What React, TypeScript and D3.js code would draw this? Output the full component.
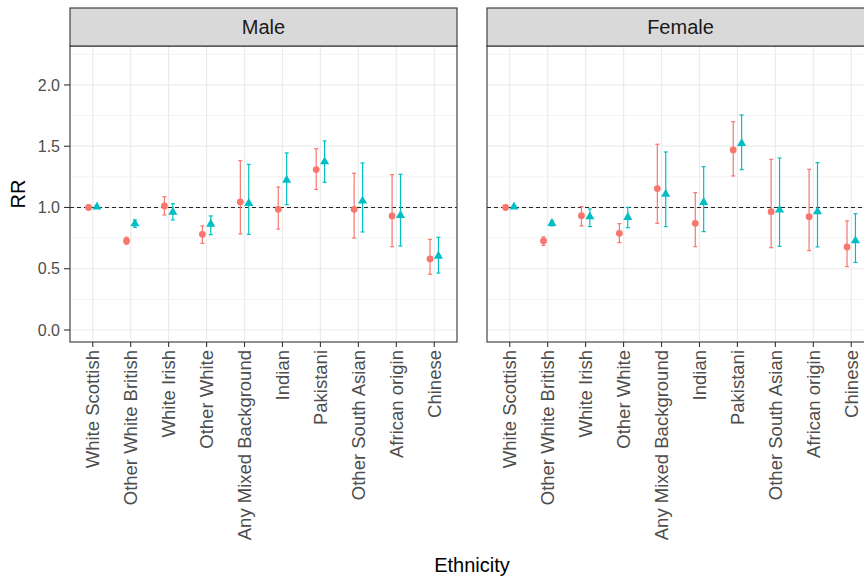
import * as d3 from 'd3';

const categories = ['White Scottish', 'Other White British', 'White Irish', 'Other White', 'Any Mixed Background', 'Indian', 'Pakistani', 'Other South Asian', 'African origin', 'Chinese'];
const panels = ['Male', 'Female'];
const yTicks = [0, 0.5, 1, 1.5, 2];
const yMinor = [0.25, 0.75, 1.25, 1.75, 2.25];

// red circles
const maleA = [1.0, 0.727, 1.012, 0.781, 1.045, 0.985, 1.309, 0.985, 0.931, 0.58];
const maleALo = [1.0, 0.70, 0.939, 0.707, 0.784, 0.824, 1.148, 0.751, 0.68, 0.455];
const maleAHi = [1.0, 0.757, 1.088, 0.849, 1.382, 1.167, 1.48, 1.279, 1.268, 0.74];
// teal triangles
const maleB = [1.005, 0.868, 0.963, 0.865, 1.034, 1.224, 1.374, 1.053, 0.936, 0.604];
const maleBLo = [1.0, 0.838, 0.898, 0.778, 0.781, 1.023, 1.206, 0.80, 0.686, 0.465];
const maleBHi = [1.0, 0.898, 1.031, 0.931, 1.352, 1.445, 1.543, 1.363, 1.271, 0.757];

const femaleA = [1.0, 0.727, 0.933, 0.789, 1.154, 0.871, 1.469, 0.966, 0.925, 0.678];
const femaleALo = [1.0, 0.69, 0.849, 0.713, 0.871, 0.68, 1.257, 0.672, 0.648, 0.517];
const femaleAHi = [1.0, 0.76, 1.007, 0.868, 1.516, 1.121, 1.70, 1.393, 1.312, 0.89];
const femaleB = [1.005, 0.871, 0.925, 0.92, 1.11, 1.042, 1.524, 0.98, 0.966, 0.729];
const femaleBLo = [1.0, 0.85, 0.844, 0.835, 0.844, 0.803, 1.309, 0.683, 0.678, 0.552];
const femaleBHi = [1.0, 0.89, 0.988, 1.001, 1.453, 1.333, 1.755, 1.404, 1.366, 0.949];

const red = '#F8766D';
const teal = '#00BFC4';
const font = '"Liberation Sans", Arial, sans-serif';

const panelW = 387;
const panelLefts = [70, 487];
const top = 46;
const bottom = 342;
const stripTop = 8;
const dodge = 4.2;

const y = d3.scaleLinear().domain([-0.098, 2.318]).range([bottom, top]);
const tri = d3.symbol(d3.symbolTriangle, 36)();

function Panel({ name, left, a, aLo, aHi, b, bLo, bHi }) {
	const x = d3.scalePoint().domain(categories).range([left, left + panelW]).padding(0.6);
	return (<g>
		<rect x={left} y={top} width={panelW} height={bottom - top} fill='white' />
		{yMinor.map(t => <line key={'m' + t} x1={left} x2={left + panelW} y1={y(t)} y2={y(t)} stroke='#EBEBEB' strokeWidth={0.6} />)}
		{yTicks.map(t => <line key={'g' + t} x1={left} x2={left + panelW} y1={y(t)} y2={y(t)} stroke='#EBEBEB' strokeWidth={1.2} />)}
		{categories.map(c => <line key={'v' + c} x1={x(c)} x2={x(c)} y1={top} y2={bottom} stroke='#EBEBEB' strokeWidth={1.2} />)}
		<line x1={left} x2={left + panelW} y1={y(1)} y2={y(1)} stroke='#222' strokeWidth={1} strokeDasharray='4,3' />
		{categories.map((c, i) => {
			const xa = x(c) - dodge, xb = x(c) + dodge;
			return (<g key={c}>
				<g stroke={red} strokeWidth={1.2}>
					<line x1={xa} x2={xa} y1={y(aLo[i])} y2={y(aHi[i])} />
					<line x1={xa - 2} x2={xa + 2} y1={y(aLo[i])} y2={y(aLo[i])} />
					<line x1={xa - 2} x2={xa + 2} y1={y(aHi[i])} y2={y(aHi[i])} />
				</g>
				<circle cx={xa} cy={y(a[i])} r={3.4} fill={red} />
				<g stroke={teal} strokeWidth={1.2}>
					<line x1={xb} x2={xb} y1={y(bLo[i])} y2={y(bHi[i])} />
					<line x1={xb - 2} x2={xb + 2} y1={y(bLo[i])} y2={y(bLo[i])} />
					<line x1={xb - 2} x2={xb + 2} y1={y(bHi[i])} y2={y(bHi[i])} />
				</g>
				<path d={tri} transform={`translate(${xb},${y(b[i])})`} fill={teal} />
			</g>);
		})}
		<rect x={left} y={top} width={panelW} height={bottom - top} fill='none' stroke='#333' strokeWidth={1.1} />
		<rect x={left} y={stripTop} width={panelW} height={top - stripTop} fill='#D9D9D9' stroke='#333' strokeWidth={1.1} />
		<text x={left + panelW / 2} y={(stripTop + top) / 2} dy='0.36em' textAnchor='middle' fontSize={20} fill='#1A1A1A'>{name}</text>
		{categories.map(c => <g key={'t' + c}>
			<line x1={x(c)} x2={x(c)} y1={bottom} y2={bottom + 5} stroke='#333' strokeWidth={1.1} />
			<text transform={`translate(${x(c)},${bottom + 8}) rotate(-90)`} dy='0.35em' textAnchor='end' fontSize={18.5} fill='#4D4D4D'>{c}</text>
		</g>)}
	</g>);
}

export default function App() {
	return (
		<svg width={864} height={581} style={{ position: 'absolute', left: 0, top: 0, background: 'white' }} fontFamily={font}>
			<rect width={864} height={581} fill='white' />
			<Panel name={panels[0]} left={panelLefts[0]} a={maleA} aLo={maleALo} aHi={maleAHi} b={maleB} bLo={maleBLo} bHi={maleBHi} />
			<Panel name={panels[1]} left={panelLefts[1]} a={femaleA} aLo={femaleALo} aHi={femaleAHi} b={femaleB} bLo={femaleBLo} bHi={femaleBHi} />
			{yTicks.map(t => <g key={t}>
				<line x1={64} x2={70} y1={y(t)} y2={y(t)} stroke='#333' strokeWidth={1.1} />
				<text x={60} y={y(t)} dy='0.36em' textAnchor='end' fontSize={16} fill='#4D4D4D'>{d3.format('.1f')(t)}</text>
			</g>)}
			<text transform={`translate(25,${(top + bottom) / 2}) rotate(-90)`} textAnchor='middle' fontSize={20}>RR</text>
			<text x={472} y={572} textAnchor='middle' fontSize={20}>Ethnicity</text>
		</svg>
	);
}
